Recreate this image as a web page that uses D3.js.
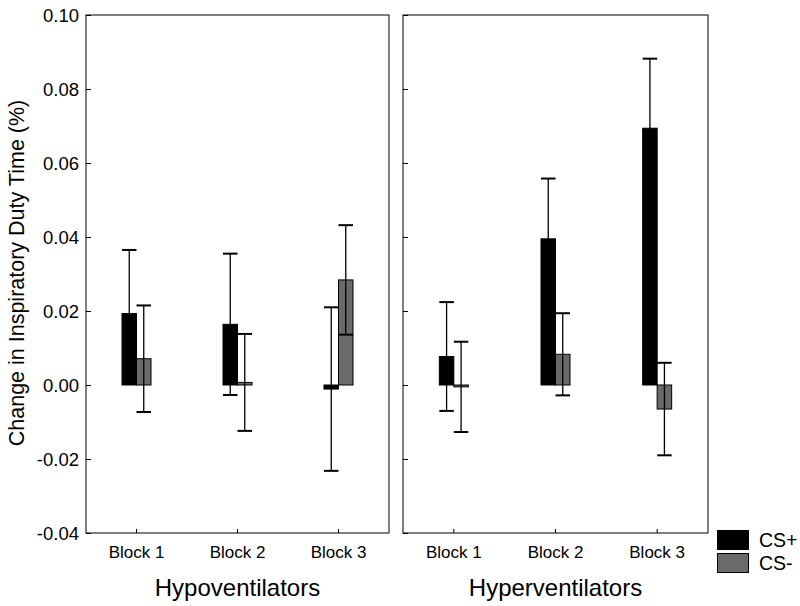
<!DOCTYPE html>
<html>
<head>
<meta charset="utf-8">
<script src="https://cdn.jsdelivr.net/npm/d3@7"></script>
<style>
  html, body { margin: 0; padding: 0; background: #fff; }
  svg { display: block; font-family: "Liberation Sans", Arial, sans-serif; }
</style>
</head>
<body>
<svg id="chart" width="800" height="606"></svg>
<script>
// ---- data ----
const groups = ["Hypoventilators", "Hyperventilators"];
const blocks = ["Block 1", "Block 2", "Block 3"];
const series = ["CS+", "CS-"];
const yTicks = [-0.04, -0.02, 0.00, 0.02, 0.04, 0.06, 0.08, 0.10];
const yTickLabels = ["-0.04", "-0.02", "0.00", "0.02", "0.04", "0.06", "0.08", "0.10"];
// means [group][block]
const csPlusMean  = [[0.0193, 0.0164, -0.0011], [0.0077, 0.0395, 0.0694]];
const csPlusErr   = [[0.0172, 0.0191, 0.0221], [0.0147, 0.0163, 0.0188]];
const csMinusMean = [[0.0071, 0.0007, 0.0284], [-0.0005, 0.0083, -0.0065]];
const csMinusErr  = [[0.0144, 0.0131, 0.0148], [0.0122, 0.0111, 0.0125]];
const colors = { "CS+": "#000000", "CS-": "#6a6a6a" };

// ---- layout ----
const svg = d3.select("#chart");
const yTop = 15, yBottom = 533;
const panels = [{ x0: 86, x1: 389 }, { x0: 403, x1: 708 }];
const barW = 14.5;

const y = d3.scaleLinear().domain([-0.04, 0.10]).range([yBottom, yTop]);

const rows = [];
groups.forEach((g, gi) => blocks.forEach((b, bi) => {
  rows.push({ g, gi, b, s: "CS+", mean: csPlusMean[gi][bi], err: csPlusErr[gi][bi] });
  rows.push({ g, gi, b, s: "CS-", mean: csMinusMean[gi][bi], err: csMinusErr[gi][bi] });
}));

panels.forEach((p, gi) => {
  const x = d3.scaleBand().domain(blocks).range([p.x0, p.x1]).paddingInner(0).paddingOuter(0);
  const xs = d3.scaleBand().domain(series).range([x.bandwidth() / 2 - barW, x.bandwidth() / 2 + barW]);
  const gEl = svg.append("g");

  // frame
  gEl.append("rect").attr("x", p.x0).attr("y", yTop).attr("width", p.x1 - p.x0).attr("height", yBottom - yTop)
    .attr("fill", "none").attr("stroke", "#000").attr("stroke-width", 1);

  // y axis ticks (inside)
  const yAxis = d3.axisRight(y).tickValues(yTicks).tickSize(5).tickFormat("");
  const ya = gEl.append("g").attr("transform", `translate(${p.x0},0)`).call(yAxis);
  ya.select(".domain").remove();
  ya.selectAll("line").attr("stroke", "#000");

  if (gi === 0) {
    yTicks.forEach((t, i) => {
      gEl.append("text").attr("x", p.x0 - 7).attr("y", y(t) + 6.5).attr("text-anchor", "end")
        .attr("font-size", 18.5).attr("fill", "#000").text(yTickLabels[i]);
    });
  }

  // x axis ticks (inside, pointing up)
  const xAxis = d3.axisTop(x).tickSize(4).tickFormat("");
  const xa = gEl.append("g").attr("transform", `translate(0,${yBottom})`).call(xAxis);
  xa.select(".domain").remove();
  xa.selectAll("line").attr("stroke", "#000");

  blocks.forEach(b => {
    gEl.append("text").attr("x", x(b) + x.bandwidth() / 2).attr("y", 558).attr("text-anchor", "middle")
      .attr("font-size", 17).attr("fill", "#000").text(b);
  });
  gEl.append("text").attr("x", (p.x0 + p.x1) / 2).attr("y", 596).attr("text-anchor", "middle")
    .attr("font-size", 24).attr("fill", "#000").text(groups[gi]);

  const data = rows.filter(r => r.gi === gi);
  // bars
  gEl.selectAll("rect.bar").data(data).join("rect").attr("class", "bar")
    .attr("x", d => x(d.b) + xs(d.s))
    .attr("width", xs.bandwidth())
    .attr("y", d => Math.min(y(d.mean), y(0)))
    .attr("height", d => Math.max(1, Math.abs(y(d.mean) - y(0))))
    .attr("fill", d => colors[d.s]).attr("stroke", "#000").attr("stroke-width", 1);

  // error bars
  const eb = gEl.selectAll("g.eb").data(data).join("g").attr("class", "eb");
  eb.append("line")
    .attr("x1", d => x(d.b) + xs(d.s) + xs.bandwidth() / 2)
    .attr("x2", d => x(d.b) + xs(d.s) + xs.bandwidth() / 2)
    .attr("y1", d => y(d.mean + d.err)).attr("y2", d => y(d.mean - d.err))
    .attr("stroke", "#000").attr("stroke-width", 1.3);
  [1, -1].forEach(sg => {
    eb.append("line")
      .attr("x1", d => x(d.b) + xs(d.s))
      .attr("x2", d => x(d.b) + xs(d.s) + xs.bandwidth())
      .attr("y1", d => y(d.mean + sg * d.err)).attr("y2", d => y(d.mean + sg * d.err))
      .attr("stroke", "#000").attr("stroke-width", 2);
  });
});

// y label
svg.append("text").attr("transform", `translate(24,${(yTop + yBottom) / 2 - 1}) rotate(-90)`)
  .attr("text-anchor", "middle").attr("font-size", 21.5).attr("fill", "#000")
  .text("Change in Inspiratory Duty Time (%)");

// legend
const lg = svg.append("g");
series.forEach((s, i) => {
  lg.append("rect").attr("x", 717.5).attr("y", 530.5 + i * 23).attr("width", 31).attr("height", 19)
    .attr("fill", colors[s]).attr("stroke", "#000").attr("stroke-width", 1);
  lg.append("text").attr("x", 759).attr("y", 547 + i * 23).attr("font-size", 19.5).attr("fill", "#000").text(s);
});
</script>
</body>
</html>
